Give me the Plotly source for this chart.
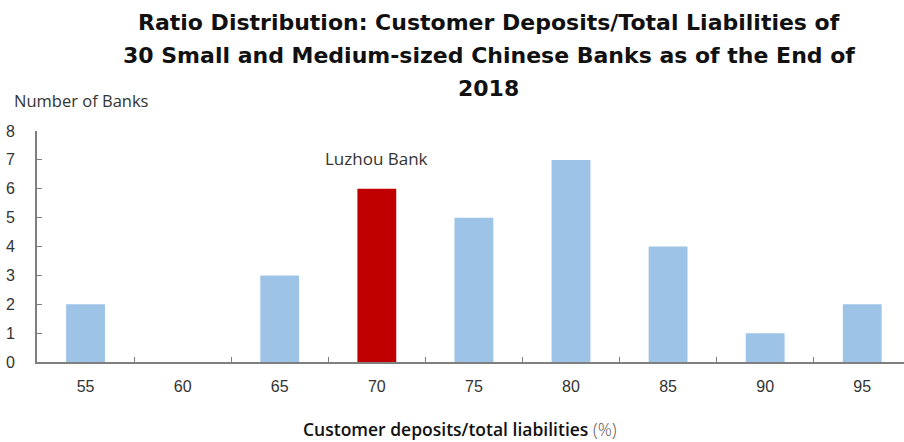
import plotly.graph_objects as go

# Distribution of customer deposits / total liabilities (%) across 30 banks
ratio_bins = ["55", "60", "65", "70", "75", "80", "85", "90", "95"]
bank_counts = [2, 0, 3, 6, 5, 7, 4, 1, 2]
highlight_bin = "70"
highlight_label = "Luzhou Bank"

title_lines = [
    "Ratio Distribution: Customer Deposits/Total Liabilities of",
    "30 Small and Medium-sized Chinese Banks as of the End of",
    "2018",
]
y_ticks = [0, 1, 2, 3, 4, 5, 6, 7, 8]

BLUE = "#9DC3E6"
RED = "#C00000"
AXIS = "#7F7F7F"
TEXT = "#333333"
LABEL_FONT = "Open Sans, Roboto, sans-serif"
TITLE_FONT = "DejaVu Sans, Open Sans, sans-serif"

colors = [RED if b == highlight_bin else BLUE for b in ratio_bins]

fig = go.Figure(
    go.Bar(
        x=ratio_bins,
        y=bank_counts,
        marker=dict(color=colors, line=dict(width=0)),
        width=0.4,
        hoverinfo="x+y",
    )
)

fig.update_layout(
    width=904,
    height=442,
    margin=dict(l=37, r=0, t=131, b=80),
    paper_bgcolor="white",
    plot_bgcolor="white",
    showlegend=False,
    font=dict(family="Liberation Sans, Arial, sans-serif", color=TEXT, size=16),
)

fig.update_xaxes(
    type="category",
    range=[-0.5, 8.43],
    showline=True,
    linecolor=AXIS,
    linewidth=2,
    ticks="inside",
    tickson="boundaries",
    ticklen=5,
    tickcolor=AXIS,
    tickwidth=1,
    showgrid=False,
    tickfont=dict(size=16, color=TEXT),
    ticklabelstandoff=9,
)

fig.update_yaxes(
    range=[0, 8],
    tickvals=y_ticks,
    showline=True,
    linecolor=AXIS,
    linewidth=2,
    ticks="inside",
    ticklen=5,
    tickcolor=AXIS,
    tickwidth=1,
    showgrid=False,
    zeroline=False,
    tickfont=dict(size=16, color=TEXT),
    ticklabelstandoff=17,
)

PW, PH = 867, 231  # plot area size in px


def px_x(x):
    return (x - 37) / PW


def px_y(y):
    return 1 + (131 - y) / PH


# Title, one annotation per line
title_y = [22, 55, 88]
for line, ypx in zip(title_lines, title_y):
    fig.add_annotation(
        text=line,
        xref="paper", yref="paper",
        x=px_x(489), y=px_y(ypx),
        xanchor="center", yanchor="middle",
        showarrow=False,
        font=dict(family=TITLE_FONT, size=22, weight=700, color="#111111"),
    )

# Y-axis caption
fig.add_annotation(
    text="Number of Banks",
    xref="paper", yref="paper",
    x=px_x(12), y=px_y(100),
    xanchor="left", yanchor="middle",
    showarrow=False,
    font=dict(family=LABEL_FONT, size=16.5, color=TEXT),
)

# Highlighted bank label
idx = ratio_bins.index(highlight_bin)
fig.add_annotation(
    text=highlight_label,
    x=idx, y=bank_counts[idx],
    xref="x", yref="y",
    yshift=30,
    showarrow=False,
    font=dict(family=LABEL_FONT, size=17, color=TEXT),
)

# X-axis caption
fig.add_annotation(
    text="Customer deposits/total liabilities <span style='font-weight:300;color:#555555'>(%)</span>",
    xref="paper", yref="paper",
    x=px_x(460), y=px_y(429),
    xanchor="center", yanchor="middle",
    showarrow=False,
    font=dict(family=LABEL_FONT, size=17.5, weight=600, color="#111111"),
)

fig.write_html("out.html")
